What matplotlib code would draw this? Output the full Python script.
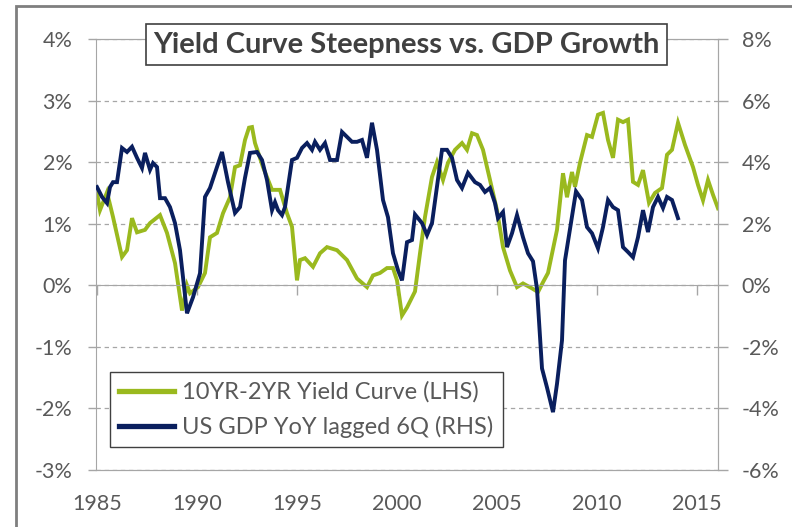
# Yield curve steepness vs lagged GDP growth

import matplotlib
matplotlib.use('Agg')
import matplotlib.pyplot as plt
from matplotlib.patches import Rectangle
from matplotlib.ticker import FuncFormatter

# 10YR-2YR yield curve (LHS, %)
yc_year = [1985.0, 1985.15, 1985.5, 1985.8, 1986.25, 1986.5, 1986.75, 1987.0, 1987.4, 1987.65,
           1988.15, 1988.5, 1988.9, 1989.25, 1989.5, 1989.65, 1990.05, 1990.4, 1990.65, 1991.0,
           1991.3, 1991.65, 1991.9, 1992.15, 1992.4, 1992.6, 1992.75, 1992.9, 1993.3, 1993.75,
           1994.15, 1994.5, 1994.75, 1995.0, 1995.15, 1995.4, 1995.8, 1996.15, 1996.5, 1997.0,
           1997.5, 1998.0, 1998.5, 1998.8, 1999.15, 1999.5, 1999.8, 2000.0, 2000.25, 2000.5,
           2000.9, 2001.15, 2001.4, 2001.75, 2002.0, 2002.3, 2002.55, 2002.9, 2003.25, 2003.5,
           2003.75, 2004.0, 2004.3, 2004.65, 2005.0, 2005.3, 2005.65, 2006.0, 2006.3, 2006.75,
           2007.05, 2007.3, 2007.55, 2008.0, 2008.3, 2008.5, 2008.75, 2008.9, 2009.15, 2009.5,
           2009.75, 2010.05, 2010.3, 2010.55, 2010.8, 2011.05, 2011.3, 2011.55, 2011.8, 2012.05,
           2012.3, 2012.6, 2012.9, 2013.25, 2013.5, 2013.75, 2014.05, 2014.4, 2014.8, 2015.05,
           2015.3, 2015.55, 2015.8, 2016.05]
yc_val = [1.50, 1.22, 1.51, 1.11, 0.46, 0.57, 1.09, 0.86, 0.90, 1.01,
          1.14, 0.85, 0.36, -0.41, 0.00, -0.13, -0.03, 0.20, 0.78, 0.85,
          1.17, 1.43, 1.92, 1.95, 2.36, 2.56, 2.57, 2.31, 1.92, 1.55,
          1.55, 1.17, 0.95, 0.08, 0.41, 0.44, 0.30, 0.52, 0.62, 0.57,
          0.41, 0.11, -0.03, 0.16, 0.20, 0.28, 0.28, 0.08, -0.49, -0.36,
          -0.10, 0.52, 1.11, 1.76, 2.00, 1.71, 1.99, 2.20, 2.31, 2.20,
          2.47, 2.44, 2.20, 1.71, 1.22, 0.62, 0.24, -0.03, 0.03, -0.05,
          -0.11, 0.05, 0.20, 0.90, 1.82, 1.43, 1.84, 1.60, 1.99, 2.44,
          2.41, 2.77, 2.80, 2.36, 2.07, 2.69, 2.65, 2.69, 1.68, 1.63,
          1.87, 1.34, 1.50, 1.58, 2.12, 2.20, 2.64, 2.28, 1.92, 1.63,
          1.38, 1.71, 1.47, 1.25]

# US GDP YoY lagged 6Q (RHS, %)
gdp_year = [1985.0, 1985.25, 1985.5, 1985.65, 1985.8, 1986.0, 1986.25, 1986.5, 1986.75, 1987.0,
            1987.25, 1987.4, 1987.65, 1987.8, 1988.0, 1988.15, 1988.4, 1988.65, 1988.9, 1989.15,
            1989.5, 1989.8, 1990.15, 1990.4, 1990.65, 1991.25, 1991.55, 1991.9, 1992.15, 1992.4,
            1992.65, 1993.0, 1993.25, 1993.5, 1993.75, 1993.9, 1994.05, 1994.25, 1994.4, 1994.75,
            1995.0, 1995.25, 1995.5, 1995.75, 1995.9, 1996.15, 1996.4, 1996.65, 1997.0, 1997.25,
            1997.5, 1997.75, 1998.0, 1998.25, 1998.5, 1998.75, 1999.0, 1999.3, 1999.55, 1999.8,
            2000.05, 2000.25, 2000.5, 2000.75, 2000.9, 2001.25, 2001.5, 2001.75, 2002.25, 2002.5,
            2002.75, 2003.0, 2003.25, 2003.55, 2003.9, 2004.15, 2004.4, 2004.65, 2004.9, 2005.05,
            2005.3, 2005.5, 2005.75, 2006.0, 2006.3, 2006.55, 2006.8, 2007.0, 2007.25, 2007.5,
            2007.8, 2008.0, 2008.25, 2008.4, 2008.95, 2009.25, 2009.5, 2009.75, 2010.05, 2010.3,
            2010.55, 2010.8, 2011.05, 2011.3, 2011.55, 2011.8, 2012.05, 2012.3, 2012.55, 2012.8,
            2013.05, 2013.3, 2013.5, 2013.75, 2014.05]
gdp_val = [3.19, 2.87, 2.67, 3.19, 3.35, 3.35, 4.46, 4.33, 4.50, 4.14,
           3.81, 4.30, 3.75, 3.97, 3.84, 2.83, 2.83, 2.54, 2.02, 1.14,
           -0.91, -0.39, 0.39, 2.87, 3.16, 4.33, 3.35, 2.35, 2.54, 3.49,
           4.30, 4.33, 4.07, 3.42, 2.44, 2.70, 2.44, 2.28, 2.54, 4.07,
           4.14, 4.46, 4.62, 4.40, 4.66, 4.40, 4.62, 4.07, 4.07, 4.98,
           4.82, 4.66, 4.66, 4.72, 4.14, 5.28, 4.40, 2.77, 2.21, 1.04,
           0.49, 0.16, 1.40, 1.47, 2.30, 2.02, 1.63, 2.02, 4.40, 4.40,
           4.14, 3.42, 3.16, 3.65, 3.35, 3.26, 3.03, 3.16, 2.67, 2.18,
           2.38, 1.24, 1.69, 2.28, 1.56, 1.04, 0.78, -0.12, -2.70, -3.32,
           -4.12, -3.20, -1.79, 0.81, 3.05, 2.77, 1.89, 1.69, 1.20, 1.89,
           2.77, 2.54, 2.44, 1.24, 1.08, 0.91, 1.56, 2.44, 1.73, 2.54,
           2.87, 2.51, 2.87, 2.77, 2.18]

year_ticks = [1985, 1990, 1995, 2000, 2005, 2010, 2015]
lhs_ticks = [-3, -2, -1, 0, 1, 2, 3, 4]
rhs_ticks = [-6, -4, -2, 0, 2, 4, 6, 8]

green = '#9AB91E'
navy = '#0A1F5E'
axis_grey = '#A6A6A6'
text_grey = '#595959'
fnt = 'Lato'

fig = plt.figure(figsize=(7.92, 5.27), dpi=100)
ax = fig.add_axes([96/792, 1 - 470/527, 622/792, 431/527])
ax2 = ax.twinx()

ax.plot(yc_year, yc_val, color=green, lw=2.8, solid_joinstyle='miter',
        label='10YR-2YR Yield Curve (LHS)')
ax2.plot(gdp_year, gdp_val, color=navy, lw=2.8, solid_joinstyle='miter',
         label='US GDP YoY lagged 6Q (RHS)')

ax.set_xlim(1984.95, 2016.05)
ax.set_ylim(-3, 4)
ax2.set_ylim(-6, 8)
ax.set_yticks(lhs_ticks)
ax2.set_yticks(rhs_ticks)
pct = FuncFormatter(lambda v, p: '%d%%' % v)
ax.yaxis.set_major_formatter(pct)
ax2.yaxis.set_major_formatter(pct)

# dashed horizontal gridlines
ax.yaxis.grid(True, linestyle=(0, (3.5, 3)), color=axis_grey, lw=0.9)
ax.set_axisbelow(True)

# x axis crosses at 0%, labels sit at the bottom
ax.spines['bottom'].set_position(('data', 0))
ax.set_xticks(year_ticks)
ax.tick_params(axis='x', direction='out', length=7, width=1, color=axis_grey, labelbottom=False)
sec = ax.secondary_xaxis(0.0)
sec.set_xticks(year_ticks)
sec.tick_params(length=0, pad=17, labelsize=15.5, labelcolor=text_grey)
sec.spines['bottom'].set_color(axis_grey)
for lab in sec.get_xticklabels():
    lab.set_fontfamily(fnt)

for s in ax.spines.values():
    s.set_color(axis_grey)
for s in ax2.spines.values():
    s.set_color(axis_grey)
ax2.spines['left'].set_visible(False)

ax.tick_params(axis='y', direction='out', length=6, width=1, color=axis_grey, pad=11,
               labelsize=15.5, labelcolor=text_grey)
ax2.tick_params(axis='y', direction='out', length=7, width=1, color=axis_grey, pad=10,
                labelsize=15.5, labelcolor=text_grey)
for lab in ax.get_yticklabels() + ax2.get_yticklabels():
    lab.set_fontfamily(fnt)

# legend with both series
h1, l1 = ax.get_legend_handles_labels()
h2, l2 = ax2.get_legend_handles_labels()
leg = ax2.legend(h1 + h2, l1 + l2, loc='upper left', bbox_to_anchor=(0.0225, 0.2274),
                 borderaxespad=0, fancybox=False, edgecolor='#404040', framealpha=1,
                 handlelength=2.3, handletextpad=0.35, labelspacing=0.55, borderpad=0.4,
                 prop={'family': fnt, 'size': 17})
leg.get_frame().set_linewidth(1.0)
for t in leg.get_texts():
    t.set_color(text_grey)
for ln in leg.get_lines():
    ln.set_linewidth(3.8)

# title box
fig.text(406.5/792, 1 - 44.5/527, 'Yield Curve Steepness vs. GDP Growth', ha='center', va='center',
         fontsize=21, fontweight='bold', family=fnt, color='#404040',
         bbox=dict(boxstyle='square,pad=0.25', fc='white', ec='#404040', lw=1.2))

# outer frame of the picture
fig.add_artist(Rectangle((16/792, -0.2), 1.2, 1.2 - 6/527, transform=fig.transFigure,
                         fill=False, ec='#7F7F7F', lw=2))

fig.savefig('out.png', dpi=100)
